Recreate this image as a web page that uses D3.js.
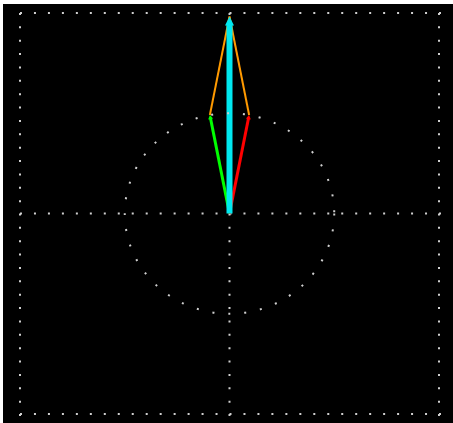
<!DOCTYPE html>
<html>
<head>
<meta charset="utf-8">
<script src="https://cdn.jsdelivr.net/npm/d3@7/dist/d3.min.js"></script>
<style>
  html, body { margin: 0; padding: 0; background: #ffffff; }
  svg { display: block; }
</style>
</head>
<body>
<svg id="chart" width="453" height="423"></svg>
<script>
// Phasor diagram: two unit phasors and their sum.
const phasorNames = ["A", "B"];
const phasorMagnitudes = [1.0, 1.0];
const phasorAnglesDeg = [100.8, 79.2];
const phasorColors = ["#00ff00", "#ff0000"];
const sumColor = "#00e8f0";
const guideColor = "#ff9a00";

const axisDomain = [-2, 2];
const gridTicks = [-2, 0, 2];
const unitCircleRadius = 1;

const W = 453, H = 423;
const svg = d3.select("#chart");

// plot background
svg.append("rect").attr("x", 3).attr("y", 4).attr("width", W - 3).attr("height", H - 4).attr("fill", "#000");

const x = d3.scaleLinear().domain(axisDomain).range([20, 439]);
const y = d3.scaleLinear().domain(axisDomain).range([414, 13]);

const dotColor = "#cfcfcf";
const nDots = 30;

// dotted grid: frame and center cross
const gGrid = svg.append("g");
const hLen = x(axisDomain[1]) - x(axisDomain[0]);
const vLen = y(axisDomain[0]) - y(axisDomain[1]);
gridTicks.forEach(t => {
  gGrid.append("line")
    .attr("x1", x(axisDomain[0])).attr("x2", x(axisDomain[1]) + 2)
    .attr("y1", y(t)).attr("y2", y(t))
    .attr("stroke", dotColor).attr("stroke-width", 2)
    .attr("stroke-dasharray", `2,${hLen / nDots - 2}`);
  gGrid.append("line")
    .attr("x1", x(t)).attr("x2", x(t))
    .attr("y1", y(axisDomain[1])).attr("y2", y(axisDomain[0]) + 2)
    .attr("stroke", dotColor).attr("stroke-width", 2)
    .attr("stroke-dasharray", `2,${vLen / nDots - 2}`);
});

// phasor components
const phasors = phasorNames.map((name, i) => {
  const a = phasorAnglesDeg[i] * Math.PI / 180;
  return { name, color: phasorColors[i],
           re: phasorMagnitudes[i] * Math.cos(a),
           im: phasorMagnitudes[i] * Math.sin(a) };
});
const sum = { re: d3.sum(phasors, p => p.re), im: d3.sum(phasors, p => p.im) };

const gVec = svg.append("g");

// parallelogram completion lines
phasors.forEach(p => {
  gVec.append("line")
    .attr("x1", x(p.re)).attr("y1", y(p.im))
    .attr("x2", x(sum.re)).attr("y2", y(sum.im))
    .attr("stroke", guideColor).attr("stroke-width", 2);
});

function arrow(g, x0, y0, x1, y1, color, width, headLen, headW) {
  const dx = x1 - x0, dy = y1 - y0;
  const L = Math.hypot(dx, dy);
  const ux = dx / L, uy = dy / L;
  const bx = x1 - ux * headLen, by = y1 - uy * headLen;
  g.append("line")
    .attr("x1", x0).attr("y1", y0).attr("x2", bx + ux * 1).attr("y2", by + uy * 1)
    .attr("stroke", color).attr("stroke-width", width);
  g.append("polygon")
    .attr("points", [
      [x1, y1],
      [bx - uy * headW / 2, by + ux * headW / 2],
      [bx + uy * headW / 2, by - ux * headW / 2]
    ].map(p => p.join(",")).join(" "))
    .attr("fill", color);
}

phasors.forEach(p => {
  arrow(gVec, x(0), y(0), x(p.re), y(p.im), p.color, 3, 4, 5);
});
arrow(gVec, x(0), y(0), x(sum.re), y(sum.im), sumColor, 6, 9, 9);

// dotted unit circle
svg.append("ellipse")
  .attr("cx", x(0)).attr("cy", y(0))
  .attr("rx", x(unitCircleRadius) - x(0))
  .attr("ry", y(0) - y(unitCircleRadius))
  .attr("fill", "none")
  .attr("stroke", dotColor).attr("stroke-width", 2)
  .attr("stroke-dasharray", "2,14");
</script>
</body>
</html>
